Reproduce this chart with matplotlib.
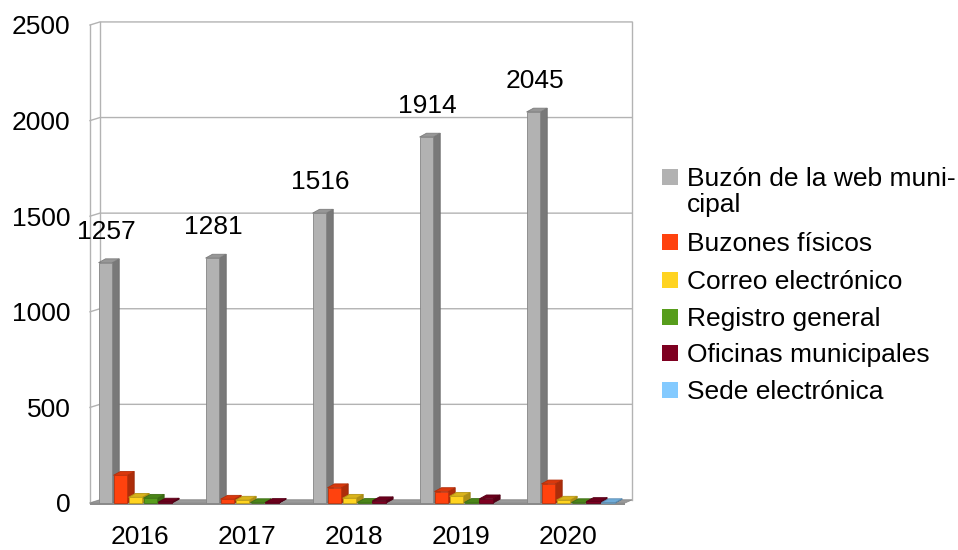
import matplotlib.pyplot as plt
from matplotlib.patches import Polygon, Rectangle
from matplotlib.colors import to_rgb

plt.rcParams['font.family'] = ['Liberation Sans', 'DejaVu Sans']

years = ['2016', '2017', '2018', '2019', '2020']
series = ['Buzón de la web muni-\ncipal', 'Buzones físicos', 'Correo electrónico',
          'Registro general', 'Oficinas municipales', 'Sede electrónica']
colors = ['#b2b2b2', '#ff420e', '#ffd320', '#579d1c', '#7e0021', '#83caff']

buzon_web = [1257, 1281, 1516, 1914, 2045]
buzones_fisicos = [145, 20, 80, 60, 100]
correo = [30, 15, 25, 35, 15]
registro = [25, 2, 3, 3, 2]
oficinas = [5, 3, 12, 22, 8]
sede = [0, 0, 0, 0, 2]
values = [buzon_web, buzones_fisicos, correo, registro, oficinas, sede]


def shade(c, f):
    r, g, b = to_rgb(c)
    return (r * f, g * f, b * f)


fig = plt.figure(figsize=(9.58, 5.5), dpi=100)
ax = fig.add_axes([90 / 958, 47 / 550, 535 / 958, 478 / 550])
ax.set_xlim(0, 5)
ax.set_ylim(0, 2500)
for s in ax.spines.values():
    s.set_visible(False)

# pseudo 3d walls
wdx, wdy = 0.093, 16
grid_c = '#b3b3b3'
for yv in range(0, 2501, 500):
    ax.plot([0, wdx, 5 + wdx * 0.7], [yv, yv + wdy, yv + wdy], color=grid_c, lw=1, clip_on=False, zorder=1)
ax.plot([0, 0], [0, 2500], color=grid_c, lw=1, clip_on=False, zorder=1)
ax.plot([wdx, wdx], [wdy, 2500 + wdy], color=grid_c, lw=1, clip_on=False, zorder=1)
ax.plot([5 + wdx * 0.7] * 2, [wdy, 2500 + wdy], color=grid_c, lw=1, clip_on=False, zorder=1)
floor = Polygon([(0, 0), (wdx, wdy), (5 + wdx * 0.7, wdy), (5, 0)], closed=True,
                facecolor='#9a9a9a', edgecolor='#8a8a8a', lw=0.5, clip_on=False, zorder=2)
ax.add_patch(floor)
ax.add_patch(Rectangle((0, -10), 5, 10, facecolor='#8c8c8c', edgecolor='none', clip_on=False, zorder=2))

# bars
bw, step, off = 0.128, 0.14, 0.08
bdx, bdy = 0.065, 20
for j, (vals, c) in enumerate(zip(values, colors)):
    for i, v in enumerate(vals):
        if v <= 0:
            continue
        x0 = i + off + j * step
        z = 10 + j
        front = Rectangle((x0, 0), bw, v, facecolor=c, edgecolor=shade(c, 0.75), lw=0.6,
                          clip_on=False, zorder=z)
        side = Polygon([(x0 + bw, 0), (x0 + bw + bdx, bdy), (x0 + bw + bdx, v + bdy), (x0 + bw, v)],
                       closed=True, facecolor=shade(c, 0.68), edgecolor=shade(c, 0.6), lw=0.6,
                       clip_on=False, zorder=z)
        top = Polygon([(x0, v), (x0 + bdx, v + bdy), (x0 + bw + bdx, v + bdy), (x0 + bw, v)],
                      closed=True, facecolor=shade(c, 0.85), edgecolor=shade(c, 0.7), lw=0.6,
                      clip_on=False, zorder=z)
        ax.add_patch(side)
        ax.add_patch(top)
        ax.add_patch(front)
        if j == 0:
            ax.text(x0 + bw / 2 + 0.01, v + 100, str(v), ha='center', va='bottom', fontsize=19, zorder=30)

ax.set_yticks(range(0, 2501, 500))
ax.set_xticks([i + 0.47 for i in range(5)])
ax.set_xticklabels(years)
ax.tick_params(axis='y', length=0, pad=14, labelsize=19)
ax.tick_params(axis='x', length=0, pad=16, labelsize=19)

# legend
ly = [177, 242, 280, 317, 353, 390]
for name, c, y in zip(series, colors, ly):
    fig.patches.append(Rectangle((662 / 958, 1 - (y + 8) / 550), 16 / 958, 16 / 550,
                                 facecolor=c, edgecolor='none', transform=fig.transFigure))
    fig.text(687 / 958, 1 - (y - 10) / 550, name, fontsize=19, va='top', ha='left', linespacing=1.13)

fig.savefig('out.png', dpi=100)
